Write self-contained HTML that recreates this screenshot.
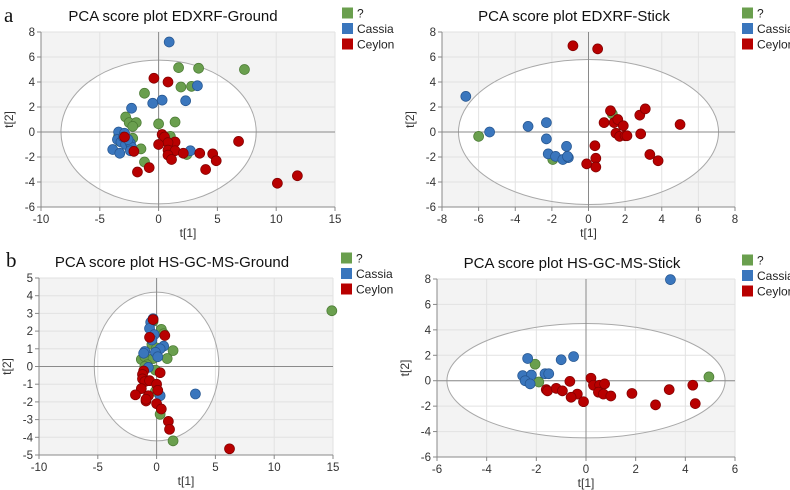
<!DOCTYPE html>
<html><head><meta charset="utf-8"><style>
html,body{margin:0;padding:0;background:#fff;}
svg{display:block;font-family:"Liberation Sans",sans-serif;}
</style></head><body>
<svg id="root" width="790" height="490" viewBox="0 0 790 490">
<text x="4" y="22" font-family="Liberation Serif,serif" font-size="21" fill="#111">a</text>
<text x="6" y="267" font-family="Liberation Serif,serif" font-size="21" fill="#111">b</text>
</svg>
<script>
// ---------- data ----------
const p1Title = "PCA score plot EDXRF-Ground";
const p1XTicks = [-10,-5,0,5,10,15];
const p1YTicks = [-6,-4,-2,0,2,4,6,8];
const p1Blue = [[0.9,7.2],[3.3,3.7],[2.3,2.5],[0.3,2.55],[-0.5,2.3],[-2.3,1.9],[-3.4,0],[-2.9,-0.1],[-3.5,-0.6],[-3.2,-0.8],[-2.8,-1.0],[-2.4,-0.9],[-2.3,-1.2],[-2.4,-1.5],[-3.9,-1.4],[-3.3,-1.7],[-2.6,-0.6],[2.7,-1.5],[-3.0,-0.4]];
const p1Green = [[1.7,5.15],[3.4,5.1],[7.3,5.0],[1.9,3.6],[2.8,3.65],[-1.2,3.1],[-2.8,1.2],[-2.5,0.75],[-1.9,0.75],[-2.2,0.45],[0.0,0.65],[1.4,0.8],[1.0,-0.35],[-3.4,-0.35],[-3.3,-0.75],[-2.2,-0.5],[-1.5,-1.35],[-1.2,-2.4],[2.4,-1.8]];
const p1Red = [[-0.4,4.3],[0.8,4.0],[0.3,-0.2],[0.5,-0.4],[1.4,-0.8],[0.8,-0.85],[0.0,-1.0],[0.8,-1.45],[1.4,-1.5],[0.8,-1.85],[1.1,-2.2],[2.1,-1.7],[3.5,-1.7],[4.6,-1.75],[4.9,-2.3],[4.0,-3.0],[6.8,-0.75],[10.1,-4.1],[11.8,-3.5],[-2.1,-1.55],[-1.8,-3.2],[-0.8,-2.85],[-2.9,-0.4]];
const p1Ellipse = [8.3,5.75];

const p2Title = "PCA score plot EDXRF-Stick";
const p2XTicks = [-8,-6,-4,-2,0,2,4,6,8];
const p2YTicks = [-6,-4,-2,0,2,4,6,8];
const p2Blue = [[-6.7,2.85],[-5.4,0],[-3.3,0.45],[-2.3,0.75],[-2.3,-0.55],[-1.2,-1.15],[-2.2,-1.75],[-1.8,-1.95],[-1.4,-2.2],[-1.1,-2.05],[-1.15,-1.95]];
const p2Green = [[-6.0,-0.35],[-1.95,-2.2],[1.3,1.45]];
const p2Red = [[-0.85,6.9],[0.5,6.65],[1.2,1.7],[0.85,0.75],[1.4,0.75],[1.6,1.0],[1.9,0.5],[2.8,1.35],[3.1,1.85],[5.0,0.6],[1.5,-0.1],[1.7,-0.35],[2.0,-0.3],[2.1,-0.3],[2.85,-0.15],[3.35,-1.8],[3.8,-2.3],[0.35,-1.1],[0.4,-2.1],[0.4,-2.8],[-0.1,-2.55]];
const p2Ellipse = [7.1,5.8];

const p3Title = "PCA score plot HS-GC-MS-Ground";
const p3XTicks = [-10,-5,0,5,10,15];
const p3YTicks = [-5,-4,-3,-2,-1,0,1,2,3,4,5];
const p3Blue = [[-0.3,2.7],[-0.5,2.5],[-0.6,2.15],[-0.2,1.8],[-0.4,1.5],[0.6,1.15],[0.3,1.0],[-0.1,0.8],[0.1,0.55],[-1.0,0.85],[-1.1,0.75],[-0.7,-0.05],[3.3,-1.55],[0.3,-1.65]];
const p3Green = [[-0.3,2.55],[0.4,2.1],[0.6,1.85],[-0.4,1.25],[0.0,1.05],[1.4,0.9],[0.9,0.45],[-1.3,0.4],[-1.0,0.55],[-0.3,0.45],[-0.8,0.1],[-1.0,0.0],[-0.1,-0.2],[-0.1,-1.4],[0.3,-2.7],[1.4,-4.2],[14.9,3.15]];
const p3Red = [[-0.3,2.65],[0.7,1.75],[-0.6,1.65],[-1.1,-0.25],[-1.2,-0.45],[-1.2,-0.7],[-1.0,-0.85],[-0.6,-0.8],[0.3,-0.35],[0.0,-1.0],[0.1,-1.35],[-1.3,-1.25],[-1.8,-1.6],[-0.7,-1.65],[-0.9,-1.95],[-0.9,-1.85],[0.0,-2.1],[0.4,-2.4],[1.0,-3.1],[1.1,-3.55],[6.2,-4.65]];
const p3Ellipse = [5.3,4.2];

const p4Title = "PCA score plot HS-GC-MS-Stick";
const p4XTicks = [-6,-4,-2,0,2,4,6];
const p4YTicks = [-6,-4,-2,0,2,4,6,8];
const p4Blue = [[3.4,7.95],[-2.35,1.75],[-1.0,1.65],[-0.5,1.9],[-2.55,0.4],[-2.2,0.45],[-1.65,0.55],[-1.5,0.55],[-2.45,0.0],[-2.25,-0.25]];
const p4Green = [[-2.05,1.3],[-1.9,-0.1],[4.95,0.3]];
const p4Red = [[0.2,0.2],[-0.65,-0.05],[0.3,-0.35],[0.55,-0.35],[0.75,-0.25],[0.5,-0.9],[0.7,-1.05],[1.0,-1.2],[1.85,-1.0],[-1.6,-0.7],[-1.55,-0.8],[-1.2,-0.6],[-0.95,-0.8],[-0.35,-1.05],[-0.6,-1.3],[-0.1,-1.65],[2.8,-1.9],[3.35,-0.7],[4.3,-0.35],[4.4,-1.8]];
const p4Ellipse = [5.6,4.5];

const legendLabels = ["?","Cassia","Ceylon"];
const COLORS = {green:"#6a9f4e",blue:"#3a76bd",red:"#b80000"};
const STROKES = {green:"#4a7a33",blue:"#25558f",red:"#800000"};

const NS="http://www.w3.org/2000/svg";
const root=document.getElementById('root');
function mk(tag,attrs,parent){const e=document.createElementNS(NS,tag);for(const k in attrs)e.setAttribute(k,attrs[k]);(parent||root).appendChild(e);return e;}

function panel(key,box,title,xt,yt,ell,blue,green,red,legX,legY,titleX,titleY){
  const g=mk('g',{});
  
  
  const xmin=xt[0],xmax=xt[xt.length-1],ymin=yt[0],ymax=yt[yt.length-1];
  const sx=v=>box.l+(v-xmin)/(xmax-xmin)*(box.r-box.l);
  const sy=v=>box.b-(v-ymin)/(ymax-ymin)*(box.b-box.t);
  const bg=mk('rect',{x:box.l,y:box.t,width:box.r-box.l,height:box.b-box.t,fill:'#f3f3f3'},g);
  
  
  const cx=sx(0),cy=sy(0),rx=sx(ell[0])-sx(0),ry=sy(0)-sy(ell[1]);
  mk('ellipse',{cx:cx,cy:cy,rx:rx,ry:ry,fill:'#fff'},g);
  xt.forEach(v=>{const x=sx(v);mk('line',{x1:x,x2:x,y1:box.t,y2:box.b,stroke:'#e2e2e2','stroke-width':1},g);});
  yt.forEach(v=>{const y=sy(v);mk('line',{x1:box.l,x2:box.r,y1:y,y2:y,stroke:'#e2e2e2','stroke-width':1},g);});
  const el=mk('ellipse',{cx:cx,cy:cy,rx:rx,ry:ry,fill:'none',stroke:'#a8a8a8','stroke-width':1},g);
  
  
  mk('line',{x1:sx(0),x2:sx(0),y1:box.t,y2:box.b,stroke:'#8a8a8a','stroke-width':1},g);
  mk('line',{x1:box.l,x2:box.r,y1:sy(0),y2:sy(0),stroke:'#8a8a8a','stroke-width':1},g);
  mk('line',{x1:box.l,x2:box.l,y1:box.t,y2:box.b,stroke:'#888'},g);
  mk('line',{x1:box.l,x2:box.r,y1:box.b,y2:box.b,stroke:'#888'},g);
  xt.forEach(v=>{const x=sx(v);mk('line',{x1:x,x2:x,y1:box.b,y2:box.b+4,stroke:'#888'},g);
    const t=mk('text',{x:x,y:box.b+16,'text-anchor':'middle','font-size':11.5,fill:'#333'},g);t.textContent=v;
    
    });
  yt.forEach(v=>{const y=sy(v);mk('line',{x1:box.l-4,x2:box.l,y1:y,y2:y,stroke:'#888'},g);
    const t=mk('text',{x:box.l-6,y:y+4,'text-anchor':'end','font-size':11.5,fill:'#333'},g);t.textContent=v;
    
    });
  const xl=mk('text',{x:(box.l+box.r)/2,y:box.b+30,'text-anchor':'middle','font-size':12,fill:'#333'},g);xl.textContent='t[1]';
  
  
  const ym=(box.t+box.b)/2, yx=box.l-28;
  const yl=mk('text',{x:yx,y:ym,'text-anchor':'middle','font-size':12,fill:'#333',transform:`rotate(-90 ${yx} ${ym})`},g);yl.textContent='t[2]';
  
  
  const tt=mk('text',{x:titleX,y:titleY,'text-anchor':'middle','font-size':15,fill:'#111'},g);tt.textContent=title;
  
  
  [['green',green],['blue',blue],['red',red]].forEach(([c,arr])=>{
    arr.forEach(p=>{const d=mk('circle',{cx:sx(p[0]),cy:sy(p[1]),r:5,fill:COLORS[c],stroke:STROKES[c],'stroke-width':0.7},g);
      
      });
  });
  ['green','blue','red'].forEach((c,i)=>{
    const y=legY+i*15.5;
    const r=mk('rect',{x:legX,y:y-5.5,width:11,height:11,fill:COLORS[c]},g);
    
    
    const t=mk('text',{x:legX+15,y:y+4.5,'font-size':12,fill:'#222'},g);t.textContent=legendLabels[i];
    
    
  });
}
panel('edxrf-ground',{l:41,r:335,t:32,b:207},p1Title,p1XTicks,p1YTicks,p1Ellipse,p1Blue,p1Green,p1Red,342,13,173,21);
panel('edxrf-stick',{l:442,r:735,t:32,b:207},p2Title,p2XTicks,p2YTicks,p2Ellipse,p2Blue,p2Green,p2Red,742,13,574,21);
panel('hsgcms-ground',{l:39,r:333,t:278,b:455},p3Title,p3XTicks,p3YTicks,p3Ellipse,p3Blue,p3Green,p3Red,341,258,172,267);
panel('hsgcms-stick',{l:437,r:735,t:279,b:457},p4Title,p4XTicks,p4YTicks,p4Ellipse,p4Blue,p4Green,p4Red,742,260,572,268);
</script>
</body></html>
